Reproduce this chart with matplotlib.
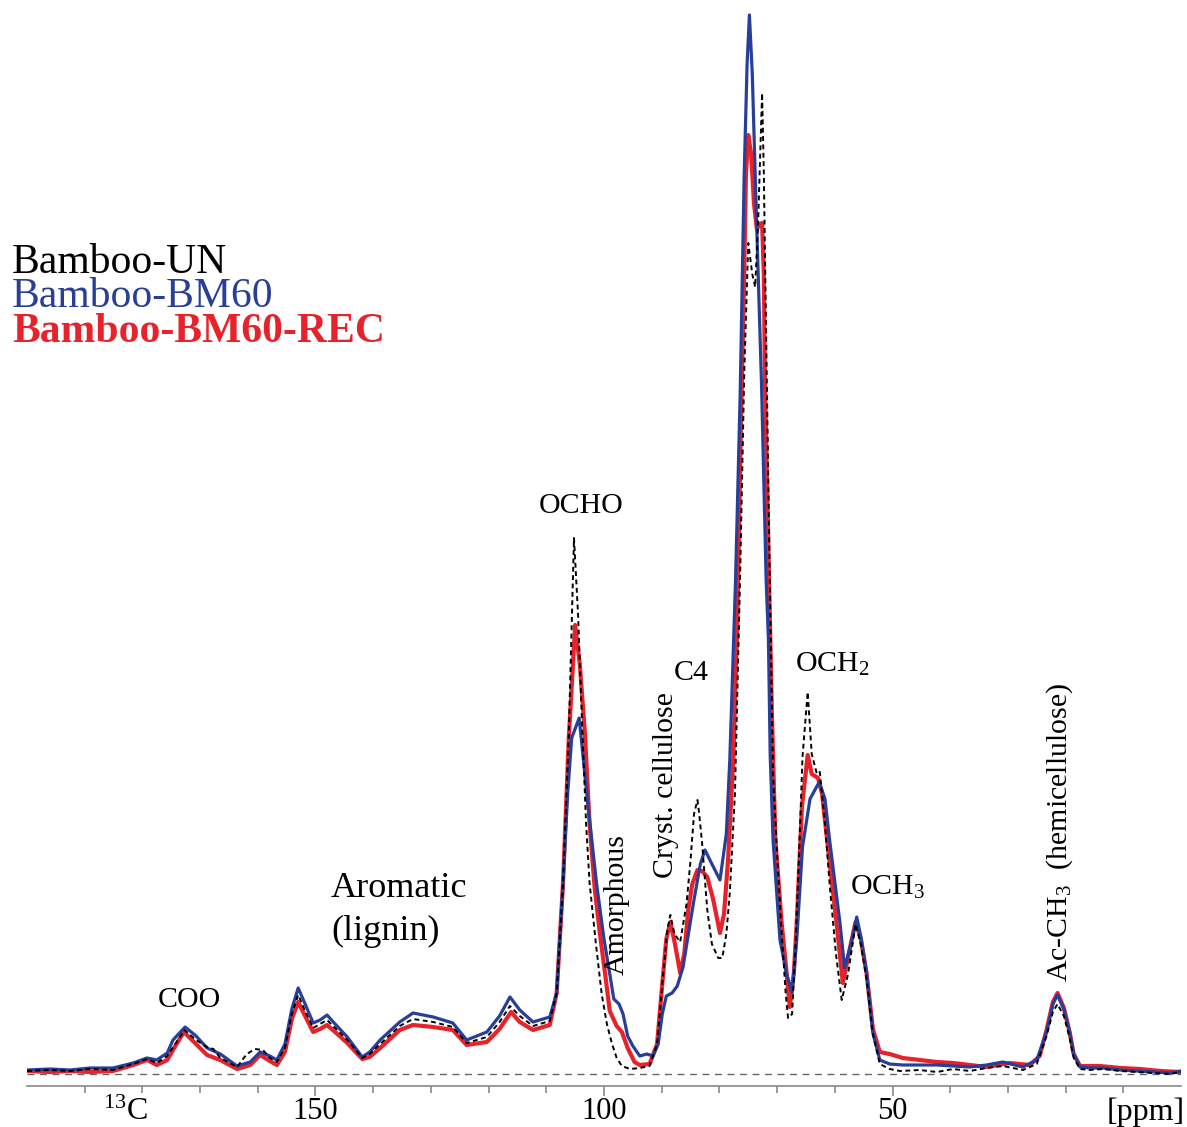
import matplotlib
matplotlib.use("Agg")
import matplotlib.pyplot as plt
from matplotlib.ticker import FixedLocator

# 13C CP/MAS spectra (ppm, intensity in arbitrary units)
un_ppm = [200.0, 196.0, 192.5, 189.1, 185.1, 181.6, 179.2, 177.5, 175.7, 174.3, 172.7, 170.7, 168.8,
          167.7, 166.5, 163.6, 161.9, 160.5, 159.1, 157.9, 156.7, 155.3, 154.1, 153.0, 151.8, 150.4,
          149.2, 148.0, 146.6, 144.5, 141.9, 140.6, 138.8, 135.4, 133.1, 129.6, 126.2, 123.8, 120.3,
          118.1, 116.3, 114.6, 112.3, 109.4, 108.2, 107.1, 106.1, 105.2, 104.5, 103.8, 103.1, 102.5,
          101.4, 100.4, 99.5, 98.6, 97.8, 96.9, 95.5, 93.8, 92.1, 90.8, 89.9, 89.0, 88.5, 87.8, 86.8,
          85.7, 85.0, 84.4, 83.8, 83.5, 83.0, 82.1, 81.3, 80.2, 79.5, 78.8, 78.2, 77.3, 76.4, 75.7,
          75.0, 74.3, 73.8, 73.3, 72.6, 72.3, 71.8, 71.2, 70.7, 70.0, 69.2, 68.5, 68.1, 67.4, 66.8,
          66.1, 65.6, 64.7, 64.0, 63.1, 62.6, 61.7, 60.9, 59.8, 58.8, 57.7, 56.4, 55.5, 54.5, 53.4,
          52.2, 50.5, 48.7, 45.3, 42.3, 39.5, 36.6, 33.7, 30.9, 27.4, 25.0, 23.3, 22.2, 21.4, 20.3,
          19.3, 18.6, 17.5, 15.8, 13.5, 10.5, 7.6, 4.5, 1.9, 0.0]
un_int = [3, 4, 3, 5, 4, 10, 15, 11, 18, 30, 44, 34, 27,
          25, 16, 7, 20, 25, 24, 16, 12, 26, 60, 79, 63, 46,
          50, 54, 46, 34, 16, 20, 30, 48, 55, 52, 47, 31, 37,
          52, 68, 58, 48, 53, 81, 191, 340, 536, 460, 350, 250, 191,
          130, 80, 50, 30, 16, 8, 5, 6, 8, 30, 90, 145, 159, 140, 132,
          170, 214, 260, 274, 260, 231, 164, 130, 116, 116, 140, 181, 281, 500, 700,
          831, 800, 787, 850, 981, 900, 700, 470, 300, 220, 140, 80, 56, 60, 130,
          234, 317, 382, 320, 300, 302, 250, 190, 120, 74, 100, 150, 130, 95, 40,
          10, 5, 3, 4, 2, 5, 3, 6, 8, 4, 10, 38, 62, 70, 58,
          36, 16, 5, 4, 5, 3, 2, 1, 0, 2]

bm_ppm = [200.0, 196.0, 192.5, 189.1, 185.1, 181.6, 179.2, 177.5, 175.7, 174.7, 172.6, 170.7, 168.8,
          166.5, 163.6, 161.3, 159.6, 157.9, 156.7, 155.3, 154.1, 153.0, 151.8, 150.4, 149.2, 148.0,
          146.6, 144.5, 141.9, 140.6, 138.8, 135.4, 133.1, 129.6, 126.2, 123.8, 120.3, 118.1, 116.3,
          114.6, 112.3, 109.4, 108.2, 107.1, 106.3, 105.6, 104.3, 102.8, 101.3, 100.0, 99.0, 98.3,
          97.4, 96.7, 95.9, 95.0, 93.8, 92.6, 91.5, 90.6, 89.9, 89.2, 88.2, 87.3, 86.3, 84.5, 83.3,
          82.5, 81.3, 79.9, 78.8, 78.2, 77.2, 76.4, 75.7, 75.2, 74.8, 74.3, 73.6, 72.7, 71.9, 71.5,
          71.2, 70.7, 69.5, 68.4, 67.4, 66.6, 65.6, 64.3, 62.7, 61.7, 60.9, 59.1, 58.3, 57.2, 56.2,
          55.4, 54.5, 53.4, 52.2, 50.5, 48.2, 45.3, 42.3, 39.5, 36.6, 33.7, 30.9, 27.4, 25.0, 23.3,
          22.2, 21.4, 20.3, 19.3, 18.6, 17.5, 15.8, 13.5, 10.5, 7.6, 4.5, 1.9, 0.0]
bm_int = [4, 5, 4, 6, 6, 11, 16, 14, 21, 34, 47, 38, 26,
          20, 8, 12, 22, 18, 14, 30, 65, 86, 70, 51, 54, 59,
          50, 37, 17, 22, 34, 52, 61, 57, 51, 34, 42, 58, 77,
          64, 52, 57, 81, 191, 280, 336, 356, 270, 191, 135, 100, 75,
          70, 60, 38, 28, 18, 20, 18, 30, 60, 78, 81, 88, 107, 171, 210,
          224, 210, 194, 240, 314, 494, 680, 900, 1010, 1059, 1000, 860, 690, 494, 434,
          320, 234, 134, 101, 82, 134, 227, 275, 292, 275, 234, 151, 106, 130, 157,
          135, 101, 41, 14, 10, 9, 9, 9, 8, 7, 9, 12, 7, 14, 42,
          70, 79, 65, 42, 20, 7, 6, 6, 4, 3, 2, 1, 3]

rec_ppm = [200.0, 196.0, 192.5, 189.1, 185.1, 181.6, 179.2, 177.5, 175.7, 174.3, 172.8, 170.7, 168.8,
           166.5, 163.6, 161.3, 159.6, 157.9, 156.7, 155.3, 154.1, 153.0, 151.8, 150.4, 149.2, 148.0,
           146.6, 144.5, 141.9, 140.6, 138.8, 135.4, 133.1, 129.6, 126.2, 123.8, 120.3, 118.1, 116.1,
           114.6, 112.3, 109.4, 108.2, 107.1, 106.1, 105.0, 104.2, 103.3, 102.5, 101.6, 100.7, 99.8,
           99.0, 97.8, 96.9, 95.9, 94.7, 93.8, 92.1, 90.8, 89.9, 89.2, 88.5, 87.7, 86.8, 86.1, 85.4,
           84.7, 83.8, 83.0, 82.1, 81.1, 79.9, 79.2, 78.5, 77.6, 76.9, 76.3, 75.7, 75.4, 75.0, 74.5,
           74.0, 73.5, 73.0, 72.6, 72.3, 72.1, 71.4, 70.9, 70.3, 69.2, 68.5, 67.8, 67.1, 66.6, 65.7,
           64.7, 64.0, 62.9, 62.2, 61.2, 59.7, 58.6, 57.6, 56.4, 55.5, 54.5, 53.4, 52.2, 50.5, 48.2,
           45.3, 42.3, 39.5, 36.6, 33.7, 29.7, 26.2, 24.5, 23.3, 22.2, 21.4, 20.3, 19.3, 18.6, 17.5,
           14.1, 10.5, 7.1, 3.6, 0.0]
rec_int = [3, 2, 3, 2, 3, 9, 14, 9, 14, 28, 42, 30, 19,
           14, 5, 9, 19, 13, 9, 22, 55, 72, 58, 42, 45, 49,
           42, 31, 15, 17, 26, 44, 49, 47, 44, 29, 32, 45, 62,
           52, 44, 49, 81, 191, 336, 449, 410, 340, 250, 185, 140, 100,
           63, 48, 42, 26, 12, 9, 10, 30, 90, 135, 152, 130, 101, 120, 164,
           190, 204, 203, 197, 175, 141, 160, 214, 314, 450, 640, 800, 900, 939, 920,
           870, 845, 850, 851, 800, 694, 494, 360, 234, 150, 110, 67, 101, 151, 267,
           319, 300, 296, 280, 227, 151, 91, 120, 152, 135, 101, 45, 22, 20, 16,
           14, 12, 11, 9, 7, 11, 9, 18, 44, 72, 81, 66, 42, 20, 8,
           8, 6, 5, 3, 2]

major_ticks = [150, 100, 50]
minor_ticks = [190, 180, 170, 160, 140, 130, 120, 110, 90, 80, 70, 60, 40, 30, 20, 10]

names = ["Bamboo-UN", "Bamboo-BM60", "Bamboo-BM60-REC"]
blue = "#283f99"
red = "#e8222b"

plt.rcParams['font.family'] = ['Liberation Serif', 'DejaVu Serif']
plt.rcParams['mathtext.fontset'] = 'custom'
plt.rcParams['mathtext.rm'] = 'Liberation Serif'
plt.rcParams['mathtext.it'] = 'Liberation Serif:italic'

fig = plt.figure(figsize=(11.87, 11.27), dpi=100)
ax = fig.add_axes([27 / 1187, 41 / 1127, 1154 / 1187, 1086 / 1127])
ax.set_xlim(200, 0)
ax.set_ylim(-12, 1074)

ax.axhline(0, color='#666666', lw=1.0, ls=(0, (5, 4)), zorder=1)
ax.plot(rec_ppm, rec_int, color=red, lw=3.0, zorder=2, solid_joinstyle='round')
ax.plot(bm_ppm, bm_int, color=blue, lw=2.3, zorder=3, solid_joinstyle='round')
ax.plot(un_ppm, un_int, color='k', lw=1.4, ls=(0, (2.5, 1.8)), zorder=4)

for s in ['left', 'right', 'top']:
    ax.spines[s].set_visible(False)
ax.spines['bottom'].set_color('#8a8a8a')
ax.spines['bottom'].set_linewidth(1.2)
ax.set_yticks([])
ax.xaxis.set_major_locator(FixedLocator(major_ticks))
ax.xaxis.set_minor_locator(FixedLocator(minor_ticks))
ax.tick_params(axis='x', which='major', length=7, width=1.2, color='#8a8a8a', labelsize=22, pad=1)
ax.tick_params(axis='x', which='minor', length=5, width=1.2, color='#8a8a8a')

ax.text(186.8, -46, r'$^{13}$C', fontsize=23, ha='left', va='baseline')
ax.text(-0.6, -46, '[ppm]', fontsize=23, ha='right', va='baseline')

# legend as coloured text
ax.text(202.6, 801, names[0], fontsize=30, color='k', ha='left', va='baseline')
ax.text(202.6, 767, names[1], fontsize=30, color=blue, ha='left', va='baseline')
ax.text(202.6, 732, names[2], fontsize=30, color=red, fontweight='bold', ha='left', va='baseline')

# peak labels
fs = 21.5
ax.text(171.9, 67, 'COO', fontsize=fs, ha='center', va='baseline')
ax.text(147.3, 177, 'Aromatic', fontsize=26, ha='left', va='baseline')
ax.text(147.3, 134, '(lignin)', fontsize=26, ha='left', va='baseline')
ax.text(104.0, 561, 'OCHO', fontsize=fs, ha='center', va='baseline')
ax.text(97.8, 99, 'Amorphous', fontsize=fs, rotation=90, ha='center', va='bottom')
ax.text(89.3, 196, 'Cryst. cellulose', fontsize=fs, rotation=90, ha='center', va='bottom')
ax.text(84.8, 394, 'C4', fontsize=fs, ha='center', va='baseline')
ax.text(66.9, 402, r'OCH$_2$', fontsize=fs, ha='left', va='baseline')
ax.text(57.4, 179, r'OCH$_3$', fontsize=fs, ha='left', va='baseline')
ax.text(21.0, 92, r'Ac-CH$_3$  (hemicellulose)', fontsize=fs, rotation=90, ha='center', va='bottom')

fig.savefig('out.png', dpi=100)
